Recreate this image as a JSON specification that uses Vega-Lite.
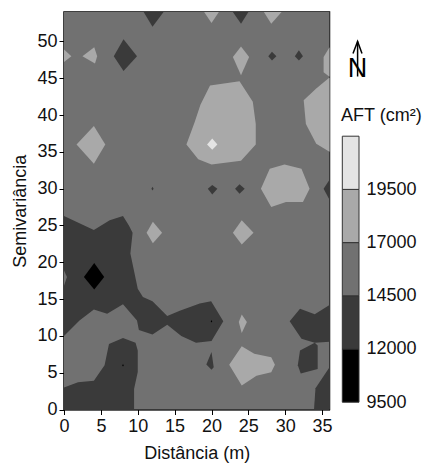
{"$schema":"https://vega.github.io/schema/vega-lite/v6.json","padding":{"left":11,"top":11,"right":0,"bottom":0},"background":"white","spacing":-1,"config":{"view":{"stroke":null},"font":"Liberation Sans"},"datasets":{"poly":[
{"p":0,"i":0,"x":0,"y":0,"b":"c"},{"p":0,"i":1,"x":36,"y":0,"b":"c"},{"p":0,"i":2,"x":36,"y":54,"b":"c"},{"p":0,"i":3,"x":0,"y":54,"b":"c"},
{"p":1,"i":0,"x":10.8,"y":54,"b":"b"},{"p":1,"i":1,"x":13.5,"y":54,"b":"b"},{"p":1,"i":2,"x":12,"y":52,"b":"b"},
{"p":2,"i":0,"x":0,"y":48.9,"b":"d"},{"p":2,"i":1,"x":1,"y":48,"b":"d"},{"p":2,"i":2,"x":0,"y":47.2,"b":"d"},
{"p":3,"i":0,"x":2.5,"y":48,"b":"d"},{"p":3,"i":1,"x":4.1,"y":49.2,"b":"d"},{"p":3,"i":2,"x":4.5,"y":48,"b":"d"},{"p":3,"i":3,"x":4.2,"y":47,"b":"d"},
{"p":4,"i":0,"x":6.75,"y":48,"b":"b"},{"p":4,"i":1,"x":8.07,"y":50.3,"b":"b"},{"p":4,"i":2,"x":9.9,"y":48,"b":"b"},{"p":4,"i":3,"x":8.07,"y":46,"b":"b"},
{"p":5,"i":0,"x":1.7,"y":36,"b":"d"},{"p":5,"i":1,"x":4.05,"y":38.5,"b":"d"},{"p":5,"i":2,"x":5.6,"y":36,"b":"d"},{"p":5,"i":3,"x":4.05,"y":33.4,"b":"d"},
{"p":6,"i":0,"x":11.85,"y":30,"b":"b"},{"p":6,"i":1,"x":12,"y":30.25,"b":"b"},{"p":6,"i":2,"x":12.15,"y":30,"b":"b"},{"p":6,"i":3,"x":12,"y":29.75,"b":"b"},
{"p":7,"i":0,"x":16.6,"y":36,"b":"d"},{"p":7,"i":1,"x":17.7,"y":39,"b":"d"},{"p":7,"i":2,"x":18.5,"y":41.4,"b":"d"},{"p":7,"i":3,"x":19.8,"y":44,"b":"d"},{"p":7,"i":4,"x":23.8,"y":44.6,"b":"d"},{"p":7,"i":5,"x":25.6,"y":41.8,"b":"d"},{"p":7,"i":6,"x":26,"y":38.8,"b":"d"},{"p":7,"i":7,"x":26,"y":36,"b":"d"},{"p":7,"i":8,"x":24,"y":33.8,"b":"d"},{"p":7,"i":9,"x":20,"y":33.3,"b":"d"},{"p":7,"i":10,"x":18.2,"y":34,"b":"d"},
{"p":8,"i":0,"x":19.4,"y":36,"b":"e"},{"p":8,"i":1,"x":20.1,"y":36.8,"b":"e"},{"p":8,"i":2,"x":20.8,"y":36,"b":"e"},{"p":8,"i":3,"x":20.1,"y":35.3,"b":"e"},
{"p":9,"i":0,"x":19,"y":54,"b":"d"},{"p":9,"i":1,"x":21,"y":54,"b":"d"},{"p":9,"i":2,"x":20,"y":52.5,"b":"d"},
{"p":10,"i":0,"x":22.9,"y":54,"b":"b"},{"p":10,"i":1,"x":25,"y":54,"b":"b"},{"p":10,"i":2,"x":24,"y":52.4,"b":"b"},
{"p":11,"i":0,"x":27.1,"y":54,"b":"d"},{"p":11,"i":1,"x":29.5,"y":54,"b":"d"},{"p":11,"i":2,"x":28.1,"y":52.4,"b":"d"},
{"p":12,"i":0,"x":24,"y":49.3,"b":"d"},{"p":12,"i":1,"x":25.1,"y":47.9,"b":"d"},{"p":12,"i":2,"x":24,"y":45.4,"b":"d"},{"p":12,"i":3,"x":22.9,"y":47.9,"b":"d"},
{"p":13,"i":0,"x":27.7,"y":48,"b":"b"},{"p":13,"i":1,"x":28.2,"y":48.6,"b":"b"},{"p":13,"i":2,"x":28.8,"y":48,"b":"b"},{"p":13,"i":3,"x":28.2,"y":47.4,"b":"b"},
{"p":14,"i":0,"x":31.3,"y":48,"b":"b"},{"p":14,"i":1,"x":31.85,"y":48.8,"b":"b"},{"p":14,"i":2,"x":32.4,"y":48,"b":"b"},{"p":14,"i":3,"x":31.85,"y":47.4,"b":"b"},
{"p":15,"i":0,"x":36,"y":49.2,"b":"d"},{"p":15,"i":1,"x":35.2,"y":47.9,"b":"d"},{"p":15,"i":2,"x":35.2,"y":45.8,"b":"d"},{"p":15,"i":3,"x":36,"y":45.2,"b":"d"},
{"p":16,"i":0,"x":36,"y":45.1,"b":"d"},{"p":16,"i":1,"x":34.2,"y":43.6,"b":"d"},{"p":16,"i":2,"x":32.5,"y":42,"b":"d"},{"p":16,"i":3,"x":32.8,"y":38.8,"b":"d"},{"p":16,"i":4,"x":34.2,"y":36.1,"b":"d"},{"p":16,"i":5,"x":36,"y":35,"b":"d"},
{"p":17,"i":0,"x":26.7,"y":30,"b":"d"},{"p":17,"i":1,"x":27.9,"y":32.7,"b":"d"},{"p":17,"i":2,"x":29.9,"y":33.3,"b":"d"},{"p":17,"i":3,"x":32.2,"y":32.7,"b":"d"},{"p":17,"i":4,"x":33.3,"y":30,"b":"d"},{"p":17,"i":5,"x":32.4,"y":28.2,"b":"d"},{"p":17,"i":6,"x":30.1,"y":28.2,"b":"d"},{"p":17,"i":7,"x":28.1,"y":27.5,"b":"d"},
{"p":18,"i":0,"x":19.5,"y":30,"b":"b"},{"p":18,"i":1,"x":20.1,"y":30.5,"b":"b"},{"p":18,"i":2,"x":20.8,"y":30,"b":"b"},{"p":18,"i":3,"x":20.1,"y":29.2,"b":"b"},
{"p":19,"i":0,"x":23.2,"y":30,"b":"b"},{"p":19,"i":1,"x":23.8,"y":30.6,"b":"b"},{"p":19,"i":2,"x":24.5,"y":30,"b":"b"},{"p":19,"i":3,"x":23.8,"y":29.3,"b":"b"},
{"p":20,"i":0,"x":36,"y":31.2,"b":"b"},{"p":20,"i":1,"x":35.2,"y":30,"b":"b"},{"p":20,"i":2,"x":36,"y":28.5,"b":"b"},
{"p":21,"i":0,"x":22.9,"y":24,"b":"d"},{"p":21,"i":1,"x":24.1,"y":25.7,"b":"d"},{"p":21,"i":2,"x":25.7,"y":24,"b":"d"},{"p":21,"i":3,"x":24.1,"y":22.4,"b":"d"},
{"p":22,"i":0,"x":11.2,"y":24,"b":"d"},{"p":22,"i":1,"x":12.05,"y":25.5,"b":"d"},{"p":22,"i":2,"x":13.3,"y":24,"b":"d"},{"p":22,"i":3,"x":12.05,"y":22.6,"b":"d"},
{"p":23,"i":0,"x":0,"y":26.3,"b":"b"},{"p":23,"i":1,"x":4.05,"y":24.4,"b":"b"},{"p":23,"i":2,"x":6.2,"y":25.7,"b":"b"},{"p":23,"i":3,"x":8,"y":26.3,"b":"b"},{"p":23,"i":4,"x":8.8,"y":25,"b":"b"},{"p":23,"i":5,"x":9.3,"y":24,"b":"b"},{"p":23,"i":6,"x":9,"y":21.2,"b":"b"},{"p":23,"i":7,"x":10,"y":16.4,"b":"b"},{"p":23,"i":8,"x":10.7,"y":15.3,"b":"b"},{"p":23,"i":9,"x":12,"y":14.7,"b":"b"},{"p":23,"i":10,"x":14,"y":12.7,"b":"b"},{"p":23,"i":11,"x":15.7,"y":13.4,"b":"b"},{"p":23,"i":12,"x":18.4,"y":14.4,"b":"b"},{"p":23,"i":13,"x":19.95,"y":14.7,"b":"b"},{"p":23,"i":14,"x":21.6,"y":12,"b":"b"},{"p":23,"i":15,"x":20,"y":9.3,"b":"b"},{"p":23,"i":16,"x":17.9,"y":9.06,"b":"b"},{"p":23,"i":17,"x":15.9,"y":10,"b":"b"},{"p":23,"i":18,"x":14,"y":11.5,"b":"b"},{"p":23,"i":19,"x":12,"y":10.2,"b":"b"},{"p":23,"i":20,"x":10.15,"y":10.8,"b":"b"},{"p":23,"i":21,"x":9.9,"y":12.1,"b":"b"},{"p":23,"i":22,"x":8,"y":14.3,"b":"b"},{"p":23,"i":23,"x":5.85,"y":13,"b":"b"},{"p":23,"i":24,"x":4.05,"y":13.6,"b":"b"},{"p":23,"i":25,"x":2.1,"y":12.1,"b":"b"},{"p":23,"i":26,"x":0,"y":10,"b":"b"},
{"p":24,"i":0,"x":0,"y":18.9,"b":"c"},{"p":24,"i":1,"x":0.4,"y":18,"b":"c"},{"p":24,"i":2,"x":0,"y":16.8,"b":"c"},
{"p":25,"i":0,"x":2.7,"y":18,"b":"a"},{"p":25,"i":1,"x":4.1,"y":19.9,"b":"a"},{"p":25,"i":2,"x":5.45,"y":18,"b":"a"},{"p":25,"i":3,"x":4.1,"y":16.3,"b":"a"},
{"p":26,"i":0,"x":0,"y":3,"b":"b"},{"p":26,"i":1,"x":1.9,"y":3.7,"b":"b"},{"p":26,"i":2,"x":4.05,"y":3.9,"b":"b"},{"p":26,"i":3,"x":5.5,"y":6,"b":"b"},{"p":26,"i":4,"x":6.1,"y":8.9,"b":"b"},{"p":26,"i":5,"x":8,"y":9.7,"b":"b"},{"p":26,"i":6,"x":9.7,"y":9.06,"b":"b"},{"p":26,"i":7,"x":10,"y":8,"b":"b"},{"p":26,"i":8,"x":10,"y":5.1,"b":"b"},{"p":26,"i":9,"x":9.5,"y":2.8,"b":"b"},{"p":26,"i":10,"x":9.5,"y":0,"b":"b"},{"p":26,"i":11,"x":0,"y":0,"b":"b"},
{"p":27,"i":0,"x":7.93,"y":6,"b":"a"},{"p":27,"i":1,"x":8,"y":6.2,"b":"a"},{"p":27,"i":2,"x":8.07,"y":6,"b":"a"},{"p":27,"i":3,"x":8,"y":5.8,"b":"a"},
{"p":28,"i":0,"x":19.93,"y":12,"b":"a"},{"p":28,"i":1,"x":20,"y":12.2,"b":"a"},{"p":28,"i":2,"x":20.07,"y":12,"b":"a"},{"p":28,"i":3,"x":20,"y":11.8,"b":"a"},
{"p":29,"i":0,"x":23.7,"y":11.9,"b":"d"},{"p":29,"i":1,"x":24.1,"y":12.9,"b":"d"},{"p":29,"i":2,"x":24.8,"y":11.9,"b":"d"},{"p":29,"i":3,"x":24.1,"y":10.4,"b":"d"},
{"p":30,"i":0,"x":19.3,"y":6.1,"b":"b"},{"p":30,"i":1,"x":20,"y":7.8,"b":"b"},{"p":30,"i":2,"x":20.3,"y":5.75,"b":"b"},{"p":30,"i":3,"x":20,"y":5.4,"b":"b"},
{"p":31,"i":0,"x":22.4,"y":6.07,"b":"d"},{"p":31,"i":1,"x":24.1,"y":8.6,"b":"d"},{"p":31,"i":2,"x":25.8,"y":7.56,"b":"d"},{"p":31,"i":3,"x":28.1,"y":7.1,"b":"d"},{"p":31,"i":4,"x":28.6,"y":6.07,"b":"d"},{"p":31,"i":5,"x":28.1,"y":5.07,"b":"d"},{"p":31,"i":6,"x":26.1,"y":4.6,"b":"d"},{"p":31,"i":7,"x":24.1,"y":3.26,"b":"d"},
{"p":32,"i":0,"x":30.6,"y":12,"b":"b"},{"p":32,"i":1,"x":32,"y":13.7,"b":"b"},{"p":32,"i":2,"x":34,"y":12.95,"b":"b"},{"p":32,"i":3,"x":36,"y":14.2,"b":"b"},{"p":32,"i":4,"x":36,"y":9.2,"b":"b"},{"p":32,"i":5,"x":34,"y":9.06,"b":"b"},{"p":32,"i":6,"x":32.2,"y":9.6,"b":"b"},
{"p":33,"i":0,"x":31.7,"y":6,"b":"b"},{"p":33,"i":1,"x":32,"y":8,"b":"b"},{"p":33,"i":2,"x":34,"y":9.06,"b":"b"},{"p":33,"i":3,"x":34.4,"y":8.7,"b":"b"},{"p":33,"i":4,"x":34.4,"y":5.5,"b":"b"},{"p":33,"i":5,"x":32.1,"y":4.9,"b":"b"},
{"p":34,"i":0,"x":36,"y":5.75,"b":"b"},{"p":34,"i":1,"x":34.1,"y":2.9,"b":"b"},{"p":34,"i":2,"x":33.9,"y":0,"b":"b"},{"p":34,"i":3,"x":36,"y":0,"b":"b"}
],"bands":[{"b":"a","lo":9500,"hi":12000},{"b":"b","lo":12000,"hi":14500},{"b":"c","lo":14500,"hi":17000},{"b":"d","lo":17000,"hi":19500},{"b":"e","lo":19500,"hi":22000}],
"arrow":[{"s":"shaft","i":0,"x":24.6,"v":26450},{"s":"shaft","i":1,"x":24.6,"v":24805},{"s":"head","i":0,"x":20,"v":25885},{"s":"head","i":1,"x":24.6,"v":26450},{"s":"head","i":2,"x":29,"v":25885}]},
"hconcat":[{"width":265.5,"height":397.5,"view":{"stroke":"black","strokeWidth":1.5},"data":{"name":"poly"},"mark":{"type":"line","filled":true,"strokeWidth":0},"encoding":{"x":{"field":"x","type":"quantitative","scale":{"domain":[0,36],"nice":false},"axis":{"values":[0,5,10,15,20,25,30,35],"title":"Distância (m)","titleFont":"Liberation Sans","titleFontWeight":"normal","titleFontSize":18,"titlePadding":9,"labelFontSize":18,"labelFont":"Liberation Sans","labelColor":"#111","titleColor":"#111","domainColor":"black","tickColor":"black","tickSize":5,"grid":false,"labelPadding":3,"labelFlush":false,"labelOverlap":false}},"y":{"field":"y","type":"quantitative","scale":{"domain":[0,54],"nice":false},"axis":{"values":[0,5,10,15,20,25,30,35,40,45,50],"title":"Semivariância","titleFont":"Liberation Sans","titleFontWeight":"normal","titleFontSize":18,"titlePadding":7,"labelFontSize":18,"labelFont":"Liberation Sans","labelColor":"#111","titleColor":"#111","domainColor":"black","tickColor":"black","tickSize":5,"grid":false,"labelPadding":2,"labelOverlap":false}},"detail":{"field":"p","type":"nominal"},"order":{"field":"i","type":"quantitative"},"color":{"field":"b","type":"nominal","legend":null,"scale":{"domain":["a","b","c","d","e"],"range":["#000000","#3a3a3a","#717171","#a9a9a9","#e4e4e4"]}}}},
{"width":90,"height":397.5,"layer":[
{"data":{"name":"bands"},"mark":{"type":"rect","stroke":"#333333","strokeWidth":1},"encoding":{"x":{"datum":9.3,"type":"quantitative","scale":{"domain":[0,90],"nice":false},"axis":null},"x2":{"datum":26},"y":{"field":"lo","type":"quantitative","scale":{"domain":[9157,27836],"nice":false},"axis":{"values":[9500,12000,14500,17000,19500],"orient":"right","offset":-64,"title":null,"domain":false,"ticks":false,"grid":false,"labelFontSize":18,"labelFont":"Liberation Sans","labelColor":"#111","labelPadding":7,"labelOverlap":false,"format":"d"}},"y2":{"field":"hi"},"color":{"field":"b","type":"nominal","legend":null,"scale":{"domain":["a","b","c","d","e"],"range":["#000000","#3a3a3a","#717171","#a9a9a9","#e4e4e4"]}}}},
{"data":{"name":"arrow"},"mark":{"type":"line","color":"black","strokeWidth":1.5},"encoding":{"x":{"field":"x","type":"quantitative"},"y":{"field":"v","type":"quantitative"},"detail":{"field":"s"},"order":{"field":"i","type":"quantitative"}}},
{"data":{"values":[{"t":"N","x":24.6,"v":24805}]},"mark":{"type":"text","fontSize":27,"font":"Liberation Sans","baseline":"alphabetic","align":"center","color":"black"},"encoding":{"x":{"field":"x","type":"quantitative"},"y":{"field":"v","type":"quantitative"},"text":{"field":"t"}}},
{"data":{"values":[{"t":"AFT (cm²)","x":8,"v":22972}]},"mark":{"type":"text","fontSize":18,"font":"Liberation Sans","baseline":"middle","align":"left","color":"#111"},"encoding":{"x":{"field":"x","type":"quantitative"},"y":{"field":"v","type":"quantitative"},"text":{"field":"t"}}}
]}]}
